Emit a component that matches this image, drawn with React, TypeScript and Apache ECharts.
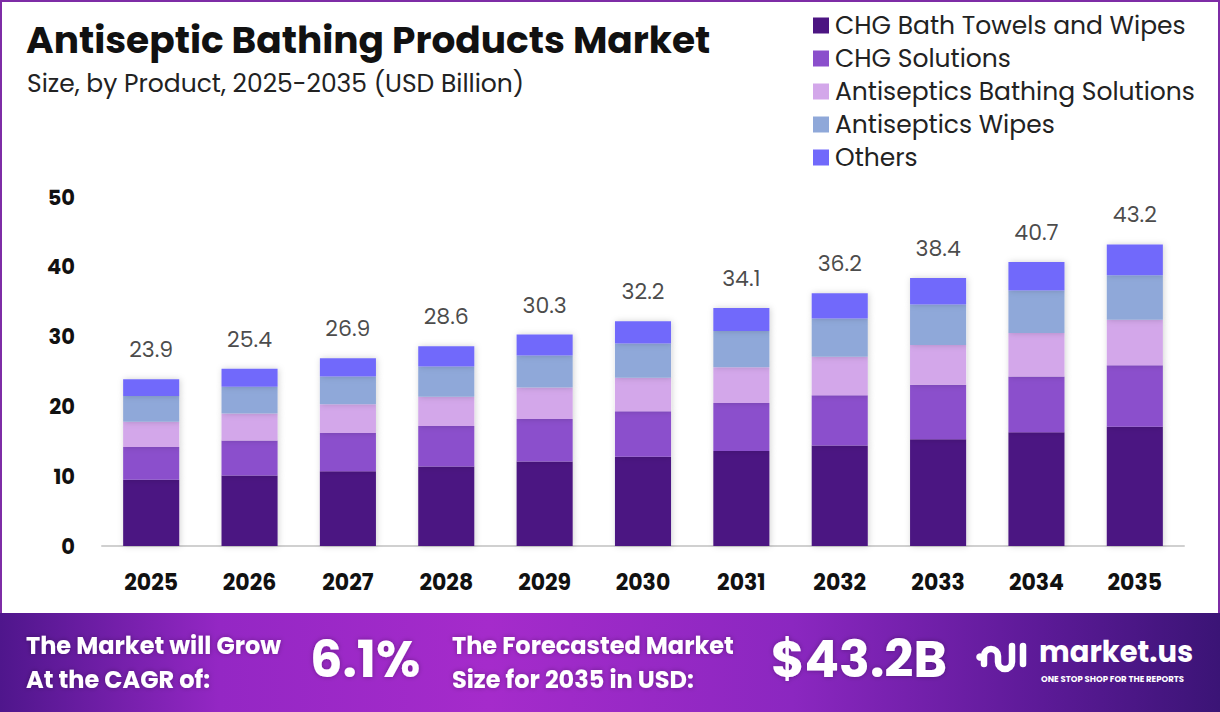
import React, { useEffect, useRef } from "react";
import * as echarts from "echarts";

const YEARS = ["2025", "2026", "2027", "2028", "2029", "2030", "2031", "2032", "2033", "2034", "2035"];
const CHG_TOWELS = [9.5, 10.1, 10.7, 11.4, 12.1, 12.8, 13.6, 14.4, 15.3, 16.3, 17.1];
const CHG_SOLUTIONS = [4.7, 5.0, 5.5, 5.8, 6.1, 6.5, 6.9, 7.2, 7.8, 8.0, 8.8];
const BATHING_SOLUTIONS = [3.6, 3.9, 4.1, 4.2, 4.5, 4.8, 5.1, 5.5, 5.7, 6.2, 6.5];
const WIPES = [3.7, 3.8, 4.0, 4.3, 4.6, 4.9, 5.2, 5.5, 5.8, 6.1, 6.4];
const OTHERS = [2.4, 2.6, 2.6, 2.9, 3.0, 3.2, 3.3, 3.6, 3.8, 4.1, 4.4];
const TOTALS = [23.9, 25.4, 26.9, 28.6, 30.3, 32.2, 34.1, 36.2, 38.4, 40.7, 43.2];
const SERIES_NAMES = [
  "CHG Bath Towels and Wipes",
  "CHG Solutions",
  "Antiseptics Bathing Solutions",
  "Antiseptics Wipes",
  "Others",
];
const COLORS = ["#4c1582", "#8b4fcc", "#d3a7ea", "#8fa8d9", "#7169fb"];
const Y_TICKS_MAX = 50;
const Y_INTERVAL = 10;

const FONT = "Poppins, Inter, 'Noto Sans', sans-serif";

export default function App() {
  const ref = useRef<HTMLDivElement>(null);

  useEffect(() => {
    document.body.style.margin = "0";
    if (!ref.current) return;
    echarts.graphic.registerShape(
      "mlogo",
      echarts.graphic.extendPath(
        "M9 22 L9 14 A7 7 0 0 1 23 14 L23 20 A7 7 0 0 0 37 20 L37 4 M48 4 L48 22",
        {}
      )
    );
    const chart = echarts.init(ref.current, null, { renderer: "svg" });
    const data = [CHG_TOWELS, CHG_SOLUTIONS, BATHING_SOLUTIONS, WIPES, OTHERS];
    const barSeries = SERIES_NAMES.map((name, i) => ({
      name,
      type: "bar",
      stack: "total",
      barWidth: "57%",
      data: data[i],
      itemStyle: {
        color: COLORS[i],
        shadowBlur: 6,
        shadowColor: "rgba(0,0,0,0.18)",
        shadowOffsetX: 1,
      },
      emphasis: { disabled: true },
    }));
    const bannerText = (x: number, y: number, text: string, size: number) => ({
      type: "text",
      x,
      y,
      z: 30,
      style: {
        text,
        fontSize: size,
        lineHeight: Math.round(size * 1.05),
        verticalAlign: "middle",
        fontWeight: "bold",
        fill: "#fff",
        fontFamily: FONT,
        textShadowBlur: 5,
        textShadowColor: "rgba(0,0,0,0.3)",
      },
    });
    const option = {
      animation: false,
      backgroundColor: "#ffffff",
      textStyle: { fontFamily: FONT },
      grid: { left: 102, right: 36, top: 197, bottom: 166, containLabel: false },
      legend: {
        orient: "vertical",
        left: 808,
        top: 8,
        itemWidth: 16,
        itemHeight: 16,
        itemGap: 8,
        icon: "rect",
        data: SERIES_NAMES,
        textStyle: { fontSize: 25, color: "#222", fontFamily: FONT, padding: [0, 0, 0, 1] },
      },
      xAxis: {
        type: "category",
        data: YEARS,
        axisLine: { lineStyle: { color: "#d0d0d0", width: 2 } },
        axisTick: { show: false },
        axisLabel: {
          color: "#111",
          fontSize: 22,
          fontWeight: "bold",
          margin: 25,
          fontFamily: FONT,
        },
      },
      yAxis: {
        type: "value",
        min: 0,
        max: Y_TICKS_MAX,
        interval: Y_INTERVAL,
        splitLine: { show: false },
        axisLine: { show: false },
        axisTick: { show: false },
        axisLabel: {
          color: "#111",
          fontSize: 21,
          fontWeight: "bold",
          margin: 27,
          fontFamily: FONT,
        },
      },
      series: [
        ...barSeries,
        {
          name: "Total",
          type: "scatter",
          data: TOTALS,
          symbolSize: 1,
          itemStyle: { color: "rgba(0,0,0,0)" },
          label: {
            show: true,
            position: "top",
            distance: 18,
            fontSize: 22,
            color: "#1a1a1a",
            fontFamily: FONT,
            formatter: (p: any) => p.value.toFixed(1),
          },
          emphasis: { disabled: true },
          z: 5,
        },
      ],
      graphic: [
        {
          type: "rect",
          shape: { x: 1, y: 1, width: 1218, height: 710 },
          style: { fill: "none", stroke: "#7e2ca6", lineWidth: 2 },
          z: 0,
        },
        {
          type: "text",
          x: 26,
          y: 21,
          style: {
            text: "Antiseptic Bathing Products Market",
            fontSize: 37.5,
            fontWeight: "bold",
            fill: "#111",
            fontFamily: FONT,
          },
        },
        {
          type: "text",
          x: 27,
          y: 71,
          style: {
            text: "Size, by Product, 2025-2035 (USD Billion)",
            fontSize: 25,
            fill: "#222",
            fontFamily: FONT,
          },
        },
        {
          type: "rect",
          shape: { x: 0, y: 613, width: 1220, height: 99 },
          style: {
            fill: new echarts.graphic.LinearGradient(0, 0, 1, 0, [
              { offset: 0, color: "#4f168c" },
              { offset: 0.18, color: "#9427c4" },
              { offset: 0.4, color: "#a52bcb" },
              { offset: 0.65, color: "#8b27c0" },
              { offset: 0.85, color: "#5d1a98" },
              { offset: 1, color: "#3b1476" },
            ]),
          },
          z: 10,
        },
        bannerText(26, 645, "The Market will Grow", 24),
        bannerText(26, 679, "At the CAGR of:", 24),
        bannerText(310, 659, "6.1%", 51),
        bannerText(452, 645, "The Forecasted Market", 24),
        bannerText(452, 679, "Size for 2035 in USD:", 24),
        bannerText(771, 659, "$43.2B", 51),
        {
          type: "circle",
          z: 30,
          shape: { cx: 980, cy: 657, r: 3.8 },
          style: { fill: "#fff" },
        },
        {
          type: "mlogo",
          z: 30,
          x: 975,
          y: 642,
          style: {
            fill: "none",
            stroke: "#fff",
            lineWidth: 6.5,
            lineCap: "round",
            lineJoin: "round",
          },
        },
        {
          type: "text",
          z: 30,
          x: 1039,
          y: 652,
          style: {
            text: "market.us",
            fontSize: 29,
            lineHeight: 20,
            verticalAlign: "middle",
            fontWeight: "bold",
            fill: "#fff",
            fontFamily: FONT,
          },
        },
        {
          type: "text",
          z: 30,
          x: 1041,
          y: 679,
          style: {
            text: "ONE STOP SHOP FOR THE REPORTS",
            fontSize: 8.5,
            lineHeight: 8,
            verticalAlign: "middle",
            fontWeight: "bold",
            fill: "#fff",
            fontFamily: FONT,
          },
        },
      ],
    };
    chart.setOption(option as any);
    return () => chart.dispose();
  }, []);

  return <div ref={ref} style={{ width: 1220, height: 712 }} />;
}
